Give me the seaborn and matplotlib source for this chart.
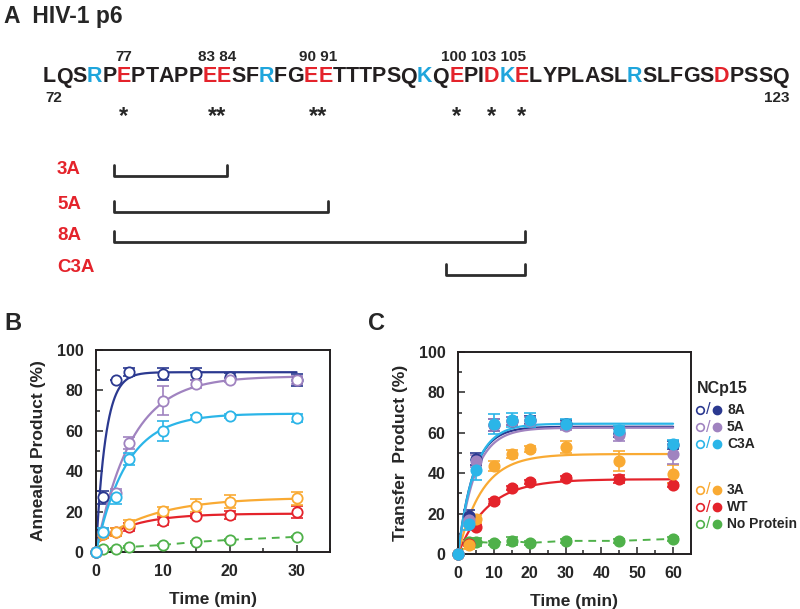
import numpy as np
import pandas as pd
import matplotlib
matplotlib.use("Agg")
import matplotlib.pyplot as plt
import seaborn as sns
from matplotlib.font_manager import FontProperties
from matplotlib.lines import Line2D

# -------------------------------
# Panel A data: HIV-1 p6 sequence
# -------------------------------
sequence = "LQSRPEPTAPPEESFRFGEETTTPSQKQEPIDKELYPLASLRSLFGSDPSSQ"
first_residue = 72
basic_residues = [75, 87, 98, 104, 113]
acidic_residues = [77, 83, 84, 90, 91, 100, 103, 105, 119]
mutated_groups = [[77], [83, 84], [90, 91], [100, 103, 105]]
mutant_names = ["3A", "5A", "8A", "C3A"]
mutant_start = [77, 77, 77, 100]
mutant_end = [84, 91, 105, 105]

# -------------------------------
# Panel B: annealing (open circles)
# -------------------------------
time_b = [0, 1, 3, 5, 10, 15, 20, 30]
anneal_8a = [0, 27, 85, 89, 88, 88, 86.5, 85]
anneal_5a = [0, 10, 29, 54, 75, 83, 85, 85]
anneal_c3a = [0, 10, 27, 46, 60, 67, 67.5, 66.5]
anneal_3a = [0, 9, 10, 14, 20.5, 23, 25, 26.5]
anneal_wt = [0, 9, 10, 12.5, 15.5, 18, 18.5, 20]
anneal_np = [0, 1.5, 1.5, 2.5, 3.5, 5, 6, 7.5]
anneal_8a_err = [0, 3, 0, 2, 3, 3, 2, 3]
anneal_5a_err = [0, 2, 2, 3, 7, 2, 1, 2]
anneal_c3a_err = [0, 2, 3, 3, 5, 1, 1, 2]
anneal_3a_err = [0, 2, 2, 2, 2, 3, 3, 3]
anneal_wt_err = [0, 2, 2, 2, 2, 1, 2, 3]
anneal_np_err = [0, 0.5, 0.5, 0.5, 0.5, 0.5, 0.5, 0.5]
# exponential fit: start, plateau, rate (1/min)
fit_b_start = [0, 0, 0, 4, 4]
fit_b_plateau = [89, 87, 68.5, 27, 19]
fit_b_rate = [0.7, 0.19, 0.22, 0.12, 0.18]

# -------------------------------
# Panel C: strand transfer (filled circles)
# -------------------------------
time_c = [0, 3, 5, 10, 15, 20, 30, 45, 60]
transfer_8a = [0, 19, 47, 64, 66, 66.5, 64.5, 60, 54]
transfer_5a = [0, 17, 46, 64, 66, 66, 63.5, 59, 49.5]
transfer_c3a = [0, 15, 41.5, 64.5, 66.5, 66.5, 64.5, 61.5, 54.5]
transfer_3a = [0, 4.5, 17.5, 43.5, 49.5, 52, 53, 46, 39.5]
transfer_wt = [0, 5, 13.5, 26, 32.5, 35.5, 37.5, 37, 34]
transfer_np = [0, 6, 6, 5.5, 6.5, 5.5, 6.5, 6.5, 7.5]
transfer_8a_err = [0, 3, 3, 3, 2, 2, 2, 2, 2]
transfer_5a_err = [0, 3, 3, 3, 2, 2, 2, 3, 5]
transfer_c3a_err = [0, 3, 5, 5, 3.5, 3.5, 2.5, 2, 2]
transfer_3a_err = [0, 2, 2, 2.5, 2, 1.5, 3, 5, 4.5]
transfer_wt_err = [0, 1, 1, 1, 1, 1, 1, 2, 1]
transfer_np_err = [0, 1, 2, 1, 2, 1, 1, 1, 1]
fit_c_start = [0, 0, 0, 0, 0]
fit_c_plateau = [63, 62.5, 64.5, 49.5, 37]
fit_c_rate = [0.23, 0.21, 0.22, 0.15, 0.12]

proteins = ["8A", "5A", "C3A", "3A", "WT", "No Protein"]
colors = ["#2b3990", "#a083c0", "#2bb5e8", "#f9aa33", "#e4232b", "#4fb14a"]
draw_order = [5, 4, 3, 0, 1, 2]   # cyan ends up on top, as in the original

W, H = 800, 609


def fx(x):
    return x / W


def fy(y):
    return 1 - y / H


sns.set_style("ticks")
plt.rcParams["font.family"] = ["Liberation Sans", "DejaVu Sans"]
plt.rcParams["font.weight"] = "bold"

fig = plt.figure(figsize=(W / 100, H / 100), dpi=100)

# -------------------------------
# Panel A
# -------------------------------
fig.text(fx(4), fy(16), "A  HIV-1 p6", fontsize=16.5, fontweight="bold", va="center")

renderer = fig.canvas.get_renderer()
seq_prop = FontProperties(family="Liberation Sans", weight="bold", size=15.5)
widths = np.array([renderer.get_text_width_height_descent(c, seq_prop, ismath=False)[0]
                   for c in sequence])
widths = widths * (746 / widths.sum())
lefts = 43 + np.concatenate([[0], np.cumsum(widths)[:-1]])
centers = lefts + widths / 2

for i, c in enumerate(sequence):
    res = first_residue + i
    col = "#231f20"
    if res in basic_residues:
        col = "#1fa5dc"
    elif res in acidic_residues:
        col = "#e4232b"
    fig.text(fx(centers[i]), fy(77), c, color=col, fontproperties=seq_prop,
             ha="center", va="center")

for group in mutated_groups:
    xs = [centers[r - first_residue] for r in group]
    label = " ".join(str(r) for r in group)
    shift = -6 if len(group) > 2 else 0
    fig.text(fx(np.mean([xs[0], xs[-1]]) + shift), fy(57), label, fontsize=11,
             fontweight="bold", ha="center", va="center")
    if len(group) == 2:
        fig.text(fx(np.mean(xs)), fy(117), "**", fontsize=17, fontweight="bold",
                 ha="center", va="center")
    else:
        for x in xs:
            fig.text(fx(x), fy(117), "*", fontsize=17, fontweight="bold",
                     ha="center", va="center")

fig.text(fx(centers[0] + 4), fy(98), str(first_residue), fontsize=11,
         fontweight="bold", ha="center", va="center")
fig.text(fx(centers[-1] - 4), fy(98), str(first_residue + len(sequence) - 1),
         fontsize=11, fontweight="bold", ha="center", va="center")

bracket_y = [176, 212, 242, 275]
for name, s, e, by in zip(mutant_names, mutant_start, mutant_end, bracket_y):
    x0 = lefts[s - first_residue] - 3
    x1 = centers[e - first_residue] + 3
    fig.add_artist(Line2D([fx(x0), fx(x0), fx(x1), fx(x1)],
                          [fy(by - 11), fy(by), fy(by), fy(by - 11)],
                          color="#2d2d2d", lw=2, transform=fig.transFigure))
    fig.text(fx(57), fy(by - 7), name, color="#e4232b", fontsize=13.5,
             fontweight="bold", va="center")

fig.text(fx(4), fy(323), "B", fontsize=17, fontweight="bold", va="center")
fig.text(fx(368), fy(323), "C", fontsize=17, fontweight="bold", va="center")

# -------------------------------
# Panels B and C
# -------------------------------
ax_b = fig.add_axes([fx(96), fy(552), fx(330 - 96), (552 - 350) / H])
ax_c = fig.add_axes([fx(458), fy(554), fx(691 - 458), (554 - 352) / H])

b_values = [anneal_8a, anneal_5a, anneal_c3a, anneal_3a, anneal_wt, anneal_np]
b_errors = [anneal_8a_err, anneal_5a_err, anneal_c3a_err, anneal_3a_err,
            anneal_wt_err, anneal_np_err]
c_values = [transfer_8a, transfer_5a, transfer_c3a, transfer_3a, transfer_wt, transfer_np]
c_errors = [transfer_8a_err, transfer_5a_err, transfer_c3a_err, transfer_3a_err,
            transfer_wt_err, transfer_np_err]

panels = [
    (ax_b, time_b, b_values, b_errors, fit_b_start, fit_b_plateau, fit_b_rate, False),
    (ax_c, time_c, c_values, c_errors, fit_c_start, fit_c_plateau, fit_c_rate, True),
]

for ax, t, values, errors, f0, fa, fk, filled in panels:
    t_fit = np.linspace(0, max(t), 300)
    for j in draw_order:
        col = colors[j]
        df = pd.DataFrame({"time": t, "value": values[j]})
        if j < 5:
            curve = f0[j] + (fa[j] - f0[j]) * (1 - np.exp(-fk[j] * t_fit))
            sns.lineplot(x=t_fit, y=curve, ax=ax, color=col, lw=1.6)
        else:
            sns.lineplot(data=df, x="time", y="value", ax=ax, color=col, lw=1.4,
                         linestyle=(0, (4, 3)))
        ax.errorbar(t, values[j], yerr=errors[j], fmt="none", ecolor=col,
                    elinewidth=1.2, capsize=4, capthick=1.2, clip_on=False)
        sns.scatterplot(data=df, x="time", y="value", ax=ax, s=55,
                        facecolor=col if filled else "white",
                        edgecolor=col, linewidth=1.3, zorder=5, clip_on=False)

for ax, xmax, xmaj in [(ax_b, 35, 30), (ax_c, 65, 60)]:
    ax.set_xlim(0, xmax)
    ax.set_ylim(0, 100)
    ax.set_xticks(np.arange(0, xmaj + 1, 10))
    ax.set_xticks(np.arange(5, xmax + 1, 10), minor=True)
    ax.set_yticks(np.arange(0, 101, 20))
    ax.set_yticks(np.arange(10, 100, 20), minor=True)
    ax.tick_params(which="both", direction="in", width=1.1, labelsize=11.5)
    ax.tick_params(which="major", length=5, pad=9)
    ax.tick_params(which="minor", length=3)
    for lab in ax.get_xticklabels() + ax.get_yticklabels():
        lab.set_fontweight("bold")
    for sp in ax.spines.values():
        sp.set_visible(True)
        sp.set_linewidth(1.4)
        sp.set_color("#231f20")
    ax.set_xlabel("Time (min)", fontsize=12.5, fontweight="bold", labelpad=9)

ax_b.set_ylabel("Annealed Product (%)", fontsize=12.5, fontweight="bold", labelpad=8)
ax_c.set_ylabel("Transfer  Product (%)", fontsize=12.5, fontweight="bold", labelpad=8)

# -------------------------------
# Legend (open / filled pairs)
# -------------------------------
fig.text(fx(697), fy(389), "NCp15", fontsize=11.5, fontweight="bold", va="center")
legend_y = [410, 427, 444, 490, 507, 524]
for j, ly in enumerate(legend_y):
    col = colors[j]
    fig.add_artist(Line2D([fx(700)], [fy(ly)], marker="o", markersize=5.5,
                          markerfacecolor="white", markeredgecolor=col,
                          markeredgewidth=1.2, transform=fig.transFigure))
    fig.text(fx(708), fy(ly), "/", color=col, fontsize=12, fontweight="normal",
             ha="center", va="center")
    fig.add_artist(Line2D([fx(717)], [fy(ly)], marker="o", markersize=6,
                          markerfacecolor=col, markeredgecolor=col,
                          transform=fig.transFigure))
    fig.text(fx(727), fy(ly), proteins[j], fontsize=10, fontweight="bold", va="center")

fig.savefig("out.png", dpi=100)
